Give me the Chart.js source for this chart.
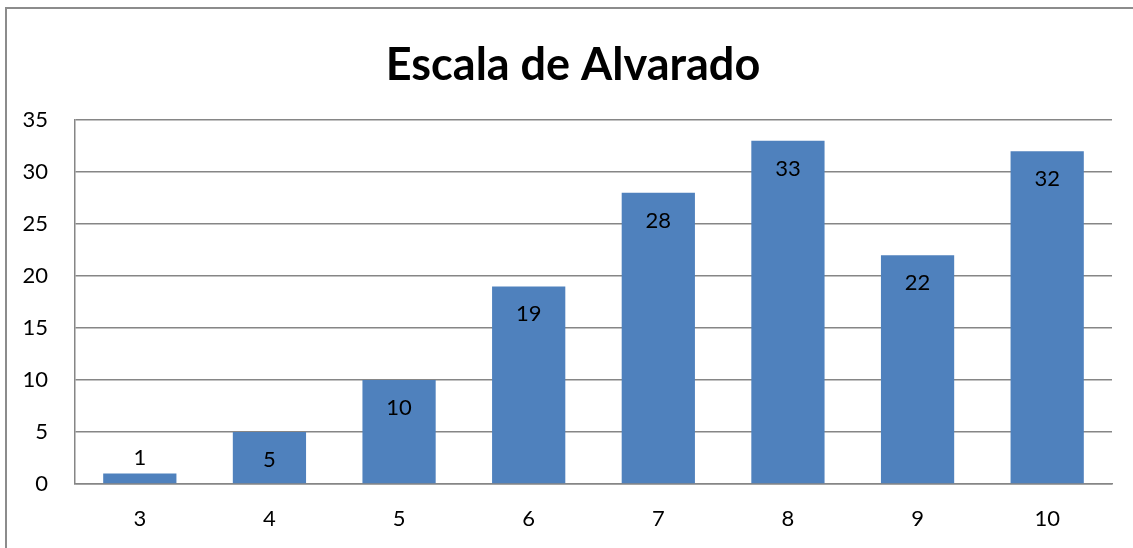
<!DOCTYPE html>
<html>
<head>
<meta charset="utf-8">
<script src="https://cdn.jsdelivr.net/npm/chart.js@4"></script>
<style>
  html, body { margin: 0; padding: 0; background: #fff; overflow: hidden; }
  #wrap { position: relative; width: 1133px; height: 548px; }
  #frame { position: absolute; left: 5px; top: 7px; width: 1140px; height: 560px; border: 2px solid #8c8c8c; box-sizing: border-box; }
  canvas { position: absolute; left: 0; top: 0; }
</style>
</head>
<body>
<div id="wrap">
  <div id="frame"></div>
  <canvas id="grafik" width="1133" height="548"></canvas>
</div>
<script>
// Escala de Alvarado: puntuación y número de pacientes
const titulo = 'Escala de Alvarado';
const puntuaciones = ['3', '4', '5', '6', '7', '8', '9', '10'];
const pacientes = [1, 5, 10, 19, 28, 33, 22, 32];
const ejeY = { min: 0, max: 35, paso: 5 };

const fuente = 'Lato, "Open Sans", sans-serif';

// Título centrado en el lienzo completo, no solo en el área del gráfico
const tituloGrafico = {
  id: 'tituloGrafico',
  afterDraw(chart) {
    const ctx = chart.ctx;
    ctx.save();
    ctx.font = 'bold 45px ' + fuente;
    ctx.fillStyle = '#000';
    ctx.textAlign = 'center';
    ctx.textBaseline = 'alphabetic';
    ctx.fillText(titulo, 573, 80);
    ctx.restore();
  }
};

// Valores encima de cada barra (dentro si cabe)
const etiquetasBarras = {
  id: 'etiquetasBarras',
  afterDatasetsDraw(chart) {
    const ctx = chart.ctx;
    const meta = chart.getDatasetMeta(0);
    ctx.save();
    ctx.font = '22px ' + fuente;
    ctx.fillStyle = '#000';
    ctx.textAlign = 'center';
    ctx.textBaseline = 'middle';
    meta.data.forEach((bar, i) => {
      const alto = bar.base - bar.y;
      const y = alto > 40 ? bar.y + 28 : bar.y - 16;
      ctx.fillText(String(pacientes[i]), bar.x, y);
    });
    ctx.restore();
  }
};

const ctx = document.getElementById('grafik').getContext('2d');
new Chart(ctx, {
  type: 'bar',
  data: {
    labels: puntuaciones,
    datasets: [{
      data: pacientes,
      backgroundColor: '#4f81bd',
      borderWidth: 0,
      categoryPercentage: 1,
      barPercentage: 0.565
    }]
  },
  plugins: [etiquetasBarras, tituloGrafico],
  options: {
    responsive: false,
    animation: false,
    layout: { padding: { left: 0, right: 21, top: 120, bottom: 0 } },
    plugins: {
      legend: { display: false },
      tooltip: { enabled: false },
      title: { display: false }
    },
    scales: {
      x: {
        grid: { display: false, drawTicks: false },
        border: { display: true, color: '#868686', width: 1.5 },
        ticks: { color: '#000', font: { family: fuente, size: 22 }, padding: 22 },
        afterFit(scale) { scale.height = 64; }
      },
      y: {
        min: ejeY.min,
        max: ejeY.max,
        grid: { color: '#868686', lineWidth: 1.5, drawTicks: false },
        border: { display: true, color: '#868686', width: 1.5 },
        ticks: { stepSize: ejeY.paso, color: '#000', font: { family: fuente, size: 22 }, padding: 27 },
        afterFit(scale) { scale.width = 75; }
      }
    }
  }
});
</script>
</body>
</html>
